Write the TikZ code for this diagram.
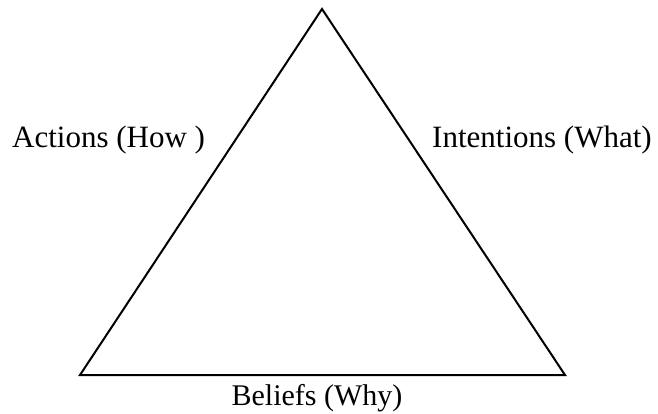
\documentclass[tikz,border=0pt]{standalone}
\usepackage{fontspec}
\setmainfont{Liberation Serif}
\begin{document}
\begin{tikzpicture}[x=1pt,y=-1pt]
                \useasboundingbox (0,0) rectangle (658,414);
                \coordinate (top) at (322,9);
                \coordinate (left) at (80,375);
                \coordinate (right) at (565,375);
                \draw[line width=2pt, line join=miter] (top) -- (left) -- (right) -- cycle;
                \node[anchor=base west, inner sep=0pt, font=\fontsize{31}{36}\selectfont] (actions) at (12,148) {Actions (How )};
                \node[anchor=base west, inner sep=0pt, font=\fontsize{31}{36}\selectfont] (intentions) at (432,148) {Intentions (What)};
                \node[anchor=base, inner sep=0pt, font=\fontsize{30}{36}\selectfont] (beliefs) at (317,405) {Beliefs (Why)};
            \end{tikzpicture}
\end{document}
